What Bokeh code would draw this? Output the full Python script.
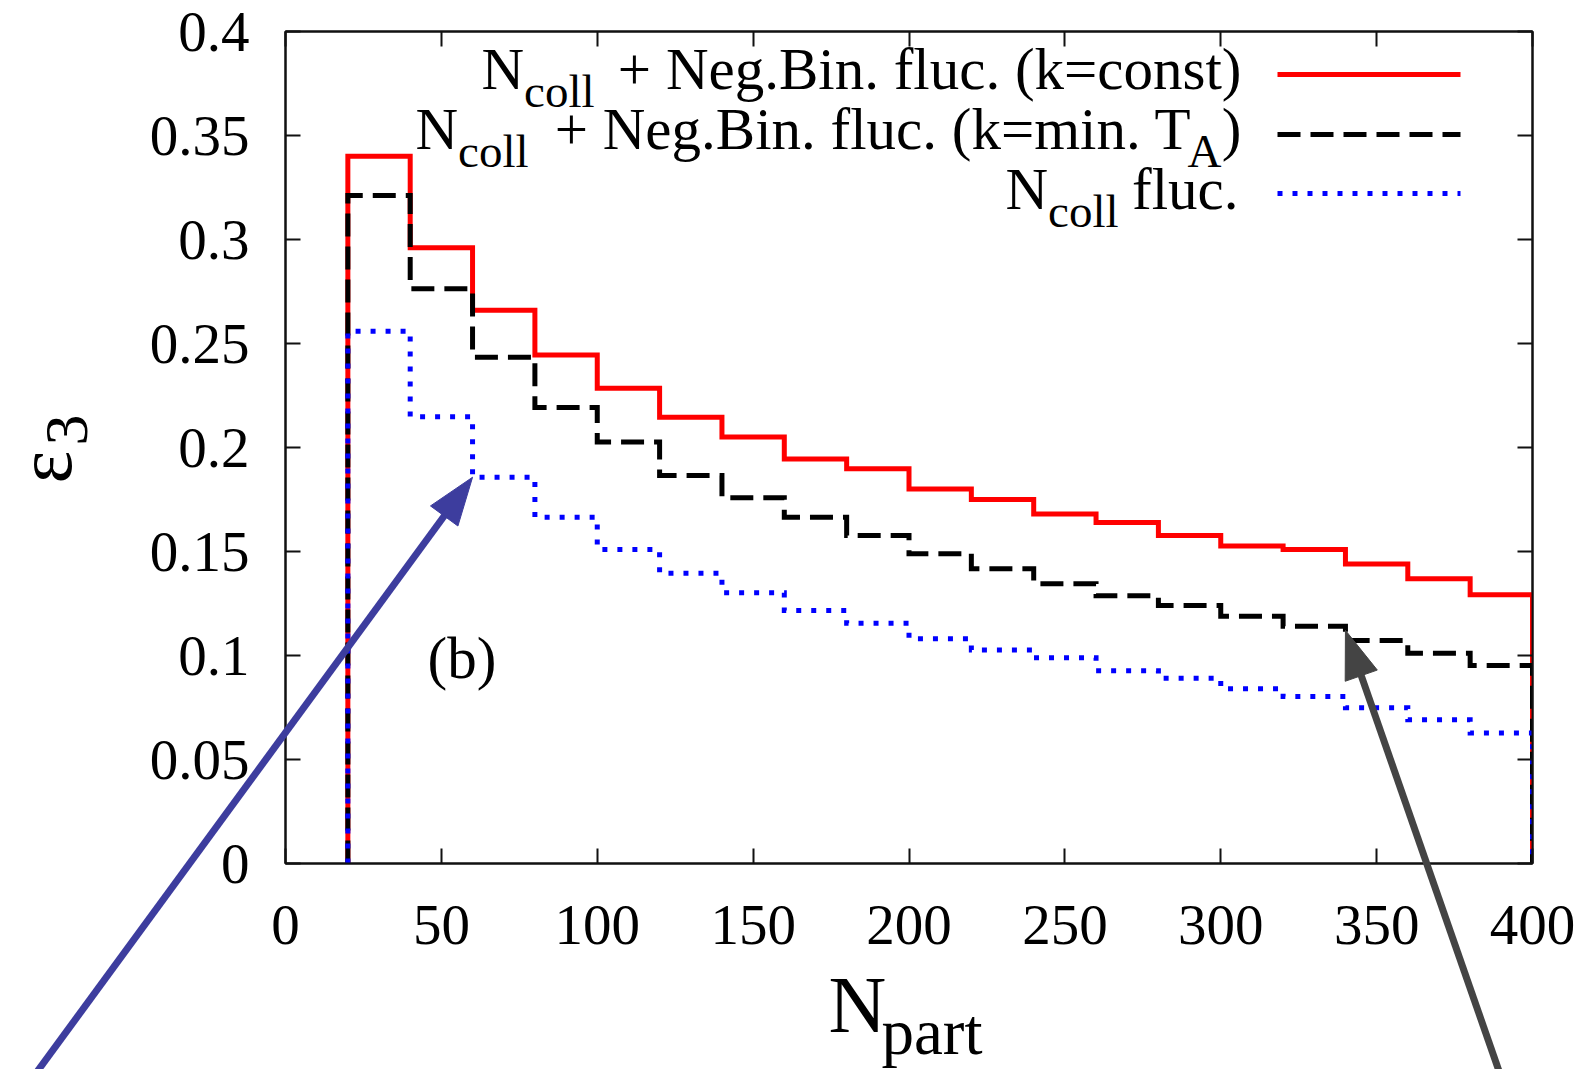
import math
from bokeh.plotting import figure
from bokeh.models import Range1d, LinearAxis, FixedTicker
from bokeh.core.properties import value
from bokeh.embed import file_html
from bokeh.resources import INLINE

# ---------------- data ----------------
npart_edges = [20, 40, 60, 80, 100, 120, 140, 160, 180, 200, 220,
               240, 260, 280, 300, 320, 340, 360, 380, 400]
eps3_k_const = [0.340, 0.296, 0.266, 0.2445, 0.2285, 0.2146, 0.205, 0.1945,
                0.1898, 0.180, 0.175, 0.168, 0.1640, 0.1577, 0.1526, 0.151,
                0.144, 0.1369, 0.1292]
eps3_k_minTA = [0.3212, 0.2763, 0.2434, 0.2192, 0.2026, 0.1865, 0.1758, 0.1665,
                0.1577, 0.1489, 0.1417, 0.1345, 0.1287, 0.124, 0.1189, 0.1141,
                0.1072, 0.1011, 0.0952]
eps3_ncoll = [0.2559, 0.2148, 0.1857, 0.1665, 0.151, 0.1395, 0.1302, 0.1216,
              0.1155, 0.108, 0.1027, 0.0989, 0.0927, 0.0891, 0.084, 0.0803,
              0.0749, 0.0691, 0.0628]
x_ticks = [0, 50, 100, 150, 200, 250, 300, 350, 400]
x_tick_labels = ["0", "50", "100", "150", "200", "250", "300", "350", "400"]
y_ticks = [0, 0.05, 0.1, 0.15, 0.2, 0.25, 0.3, 0.35, 0.4]
y_tick_labels = ["0", "0.05", "0.1", "0.15", "0.2", "0.25", "0.3", "0.35", "0.4"]

# ---------------- layout ----------------
W, H = 1592, 1069
L, R, T, B = 285, 1532, 31, 863
XMIN, XMAX, YMIN, YMAX = 0, 400, 0, 0.4
FONT = "Liberation Serif"
BASE_SHIFT = 0.3375  # rendered anchor sits this fraction of size above baseline


def X(px):
    return XMIN + (px - L) / (R - L) * (XMAX - XMIN)


def Y(py):
    return YMIN + (B - py) / (B - T) * (YMAX - YMIN)


def PX(x):
    return L + (x - XMIN) / (XMAX - XMIN) * (R - L)


def PY(y):
    return B - (y - YMIN) / (YMAX - YMIN) * (B - T)


p = figure(width=W, height=H, output_backend="svg", toolbar_location=None,
           x_range=Range1d(XMIN, XMAX), y_range=Range1d(YMIN, YMAX),
           min_border_left=L, min_border_right=W - R,
           min_border_top=T, min_border_bottom=H - B)
p.background_fill_color = "white"
p.border_fill_color = "white"
p.outline_line_color = "#111111"
p.outline_line_width = 2
p.xgrid.visible = False
p.ygrid.visible = False


def style_axis(ax, ticks, labels, show_labels, standoff):
    ax.ticker = FixedTicker(ticks=ticks)
    ax.major_label_overrides = dict(zip(ticks, labels))
    ax.axis_line_color = "#111111"
    ax.axis_line_width = 2
    ax.major_tick_line_color = "#111111"
    ax.major_tick_line_width = 2
    ax.major_tick_in = 15
    ax.major_tick_out = 0
    ax.minor_tick_line_color = None
    ax.major_label_text_font = FONT
    if show_labels:
        ax.major_label_text_color = "black"
        ax.major_label_text_font_size = "57px"
        ax.major_label_standoff = standoff
    else:
        ax.major_label_text_color = None
        ax.major_label_text_font_size = "2px"
        ax.major_label_standoff = 0


style_axis(p.xaxis[0], x_ticks, x_tick_labels, True, 42)
style_axis(p.yaxis[0], y_ticks, y_tick_labels, True, 36)
top_ax = LinearAxis()
style_axis(top_ax, x_ticks, x_tick_labels, False, 0)
p.add_layout(top_ax, "above")
right_ax = LinearAxis()
style_axis(right_ax, y_ticks, y_tick_labels, False, 0)
p.add_layout(right_ax, "right")


def step_path(edges, vals):
    xs, ys = [edges[0]], [0.0]
    for i, v in enumerate(vals):
        xs += [edges[i], edges[i + 1]]
        ys += [v, v]
    xs.append(edges[-1])
    ys.append(0.0)
    return xs, ys


series = [
    (eps3_k_const, "#ff0000", None),
    (eps3_k_minTA, "#000000", "23 10"),
    (eps3_ncoll, "#0000ff", "5 10"),
]
for vals, color, dash in series:
    xs, ys = step_path(npart_edges, vals)
    kw = dict(line_color=color, line_width=5, line_join="miter")
    if dash:
        kw["line_dash"] = dash
    p.line(xs, ys, **kw)

# ---------------- legend (manual, gnuplot style) ----------------
leg_rows = [74, 134, 193]
for (vals, color, dash), ry in zip(series, leg_rows):
    kw = dict(line_color=color, line_width=5)
    if dash:
        kw["line_dash"] = dash
    p.line([X(1277), X(1460)], [Y(ry), Y(ry)], **kw)


def lab(text, px, py, size, align="left", rotated=False, color="black"):
    """px, py: pixel position of the start of the text baseline."""
    if rotated:
        px = px - BASE_SHIFT * size
        angle = math.pi / 2
    else:
        py = py - BASE_SHIFT * size
        angle = 0.0
    p.text(x=[X(px)], y=[Y(py)], text=[text], text_font=value(FONT),
           text_font_size=value(f"{size}px"), text_align=align,
           text_baseline="alphabetic", angle=angle, text_color=color,
           level="overlay")


F, S, SUB = 59, 47, 18
# row 1
lab("N", 481, 88, F)
lab("coll", 481 + 0.722 * F, 88 + SUB, S)
lab("+ Neg.Bin. fluc. (k=const)", 1241, 88, F, align="right")
# row 2
lab("N", 415, 148, F)
lab("coll", 415 + 0.722 * F, 148 + SUB, S)
lab("+ Neg.Bin. fluc. (k=min. T", 1191, 148, F, align="right")
lab("A", 1187, 148 + SUB, S)
lab(")", 1241, 148, F, align="right")
# row 3
lab("N", 1005, 208, F)
lab("coll", 1005 + 0.722 * F, 208 + SUB, S)
lab("fluc.", 1238, 208, F, align="right")

# panel tag
lab("(b)", 427, 677, 59)

# axis titles
lab("N", 828, 1031, 80)
lab("part", 881, 1053, 65)
lab("ε", 70, 483, 78, rotated=True)
lab("3", 87, 445, 62, rotated=True)


# ---------------- arrows ----------------
def arrow(tail_px, tip_xy, color, head_len=48, head_half=17, width=7):
    tx, ty = PX(tip_xy[0]), PY(tip_xy[1])
    sx, sy = tail_px
    dx, dy = tx - sx, ty - sy
    n = math.hypot(dx, dy)
    ux, uy = dx / n, dy / n
    bx, by = tx - ux * head_len, ty - uy * head_len
    p.line([X(sx), X(bx + ux * 4)], [Y(sy), Y(by + uy * 4)],
           line_color=color, line_width=width, level="overlay")
    hx = [tx, bx - uy * head_half, bx + uy * head_half]
    hy = [ty, by + ux * head_half, by - ux * head_half]
    p.patch([X(v) for v in hx], [Y(v) for v in hy], fill_color=color,
            line_color=color, line_width=1, level="overlay")


arrow((36, 1072), (npart_edges[2], eps3_ncoll[2]), "#3d3d9e")
arrow((1499, 1072), (npart_edges[16], eps3_k_minTA[15] - 0.002), "#444444")

open("out.html", "w").write(file_html(p, INLINE))
